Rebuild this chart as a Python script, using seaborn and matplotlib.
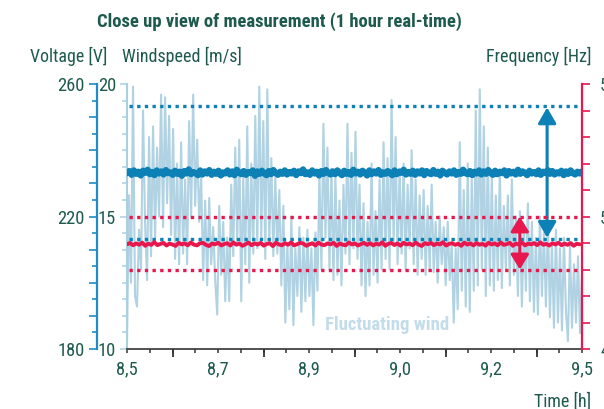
import matplotlib
matplotlib.use('Agg')
import matplotlib.pyplot as plt
from matplotlib import font_manager as fm
from matplotlib.ticker import FixedLocator, FixedFormatter, MultipleLocator, NullFormatter
import seaborn as sns
import numpy as np
import pandas as pd

# ---------------- data ----------------
title = "Close up view of measurement (1 hour real-time)"
time_ticks = [0, 12, 24, 36, 48, 60]            # minutes into the hour
time_labels = ["8,5", "8,7", "8,9", "9,0", "9,2", "9,5"]
volt_ticks = [180, 220, 260]
wind_ticks = [10, 15, 20]
freq_ticks = [49, 50, 51]
freq_labels = ["49", "50", "51"]

wind = [10.3, 15.8, 12.5, 19.9, 12.0,
        11.6, 14.5, 13.0, 19.0, 14.8,
        12.6, 18.0, 13.5, 18.4, 14.2,
        17.6, 15.0, 19.6, 14.6, 19.5,
        15.5, 18.8, 14.3, 18.3, 13.4,
        17.0, 13.2, 17.8, 13.6, 16.4,
        13.2, 18.6, 15.0, 19.6, 15.4,
        17.9, 14.8, 16.5, 12.6, 15.6,
        12.4, 15.7, 13.2, 14.6, 12.6,
        11.3, 15.4, 12.8, 14.8, 11.8,
        14.2, 11.8, 16.2, 13.5, 17.6,
        14.0, 17.9, 11.8, 16.5, 13.2,
        18.4, 12.5, 17.0, 13.6, 18.8,
        13.8, 19.9, 14.2, 18.6, 13.4,
        19.8, 14.0, 17.2, 13.5, 16.5,
        13.6, 16.0, 12.4, 15.4, 11.0,
        14.0, 11.5, 15.0, 10.9, 13.8,
        12.0, 14.6, 11.4, 14.2, 11.8,
        14.5, 12.0, 13.8, 10.9, 14.4,
        12.2, 16.6, 13.0, 18.5, 14.2,
        17.6, 13.0, 16.8, 12.6, 16.5,
        12.8, 15.6, 12.4, 16.2, 13.6,
        18.5, 13.2, 17.4, 13.8, 18.2,
        13.4, 16.2, 12.4, 15.5, 12.0,
        14.8, 12.4, 17.0, 12.8, 15.2,
        12.5, 16.4, 13.0, 17.8, 13.4,
        17.2, 13.0, 19.4, 14.0, 18.0,
        13.2, 16.8, 13.6, 17.0, 13.0,
        16.2, 13.8, 17.5, 13.2, 16.4,
        12.8, 15.8, 13.4, 16.0, 12.8,
        15.4, 13.0, 16.2, 12.9, 14.8,
        12.5, 15.0, 13.2, 14.6, 12.4,
        14.8, 12.6, 14.0, 11.0, 13.8,
        11.5, 17.8, 12.2, 16.0, 11.6,
        17.0, 11.4, 16.4, 12.2, 19.0,
        12.4, 19.8, 13.0, 18.4, 12.0,
        17.6, 12.4, 16.6, 12.2, 15.8,
        12.6, 16.8, 12.3, 15.4, 13.0,
        15.8, 12.4, 16.4, 12.8, 15.0,
        12.0, 15.2, 11.6, 14.6, 12.2,
        15.5, 11.8, 14.8, 11.4, 14.2,
        11.3, 15.0, 12.0, 14.4, 11.6,
        14.8, 11.2, 14.0, 10.8, 14.5,
        11.0, 13.8, 10.7, 14.2, 11.4,
        10.3, 13.9, 10.8, 13.2, 11.0,
        13.5, 10.6, 12.8]

voltage = [233.1, 233.7, 232.6, 233.9, 232.9, 233.5, 232.4, 233.8, 233.2, 234.1,
           232.8, 233.4, 232.5, 233.9, 233.0, 233.6, 232.7, 234.0, 233.1, 233.3,
           232.6, 233.8, 232.9, 233.5, 232.3, 233.7, 233.0, 234.2, 232.8, 233.4,
           233.1, 232.5, 233.9, 232.7, 233.6, 233.0, 234.0, 232.6, 233.5, 232.9,
           233.8, 232.4, 233.3, 233.0, 233.9, 232.7, 233.6, 232.5, 234.1, 233.2,
           232.8, 233.7, 232.6, 233.4, 233.1, 233.9, 232.3, 233.6, 232.9, 233.8,
           233.0, 232.5, 233.7, 232.8, 234.0, 233.2, 232.6, 233.5, 232.9, 233.9,
           232.7, 233.4, 233.0, 233.8, 232.5, 233.6, 233.1, 234.2, 232.8, 233.3,
           232.6, 233.9, 233.0, 233.5, 232.4, 233.7, 232.9, 234.0, 233.2, 232.7,
           233.6, 232.8, 233.9, 233.1, 232.5, 233.8, 232.9, 233.4, 232.6, 234.1,
           233.0, 233.5, 232.7, 233.8, 233.2, 232.4, 233.9, 232.8, 233.6, 233.0,
           234.0, 232.6, 233.3, 232.9, 233.7, 233.1, 232.5, 233.9, 232.8, 233.5,
           233.2, 234.1, 232.7, 233.4, 232.9, 233.8, 232.6, 233.6, 233.0, 233.9,
           232.5, 233.7, 233.1, 232.8, 234.0, 232.9, 233.5, 232.4, 233.8, 233.2,
           232.7, 233.6, 233.0, 233.9, 232.6, 233.4, 232.9, 234.1, 233.1, 232.8,
           233.7, 232.5, 233.5, 233.0, 233.9, 232.7, 233.6, 232.9, 234.0, 233.2,
           232.6, 233.8, 232.8, 233.4, 233.1, 233.9, 232.4, 233.7, 233.0, 233.5,
           232.7, 234.1, 232.9, 233.6, 233.2, 232.5, 233.8, 233.0, 233.4, 232.8,
           233.9, 232.6, 233.5, 233.1, 234.0, 232.9, 233.7, 232.7, 233.3, 233.0,
           233.8, 232.5, 233.6, 232.9, 233.9, 233.1, 232.7, 233.5, 233.0, 233.6]

frequency = [49.79, 49.80, 49.783, 49.797, 49.787, 49.803, 49.779, 49.795, 49.786, 49.806,
             49.784, 49.793, 49.801, 49.781, 49.796, 49.788, 49.778, 49.802, 49.789, 49.797,
             49.783, 49.804, 49.788, 49.782, 49.798, 49.801, 49.786, 49.777, 49.796, 49.79,
             49.802, 49.782, 49.792, 49.799, 49.781, 49.805, 49.787, 49.796, 49.779, 49.791,
             49.803, 49.783, 49.797, 49.788, 49.801, 49.78, 49.793, 49.798, 49.777, 49.802,
             49.789, 49.783, 49.799, 49.787, 49.804, 49.782, 49.791, 49.801, 49.796, 49.779,
             49.79, 49.798, 49.781, 49.803, 49.788, 49.784, 49.797, 49.79, 49.802, 49.778,
             49.796, 49.787, 49.783, 49.804, 49.789, 49.797, 49.781, 49.792, 49.801, 49.786,
             49.799, 49.782, 49.795, 49.788, 49.805, 49.779, 49.794, 49.8, 49.785, 49.797,
             49.78, 49.802, 49.789, 49.796, 49.783, 49.803, 49.787, 49.778, 49.799, 49.791,
             49.801, 49.784, 49.796, 49.789, 49.806, 49.781, 49.793, 49.799, 49.786, 49.795,
             49.779, 49.803, 49.788, 49.797, 49.782, 49.8, 49.787, 49.794, 49.78, 49.802,
             49.789, 49.797, 49.783, 49.804, 49.786, 49.792, 49.801, 49.779, 49.796, 49.788,
             49.803, 49.782, 49.795, 49.79, 49.799, 49.784, 49.805, 49.787, 49.793, 49.781,
             49.798, 49.789, 49.802, 49.783, 49.796, 49.786, 49.8, 49.779, 49.794, 49.79]

volt_limits = [253.3, 213.1]
freq_limits = [50.0, 49.6]
volt_arrow = dict(t=55.4, top=252.9, bottom=213.6)
freq_arrow = dict(t=51.8, top=50.0, bottom=49.6)

# ---------------- style ----------------
TEXT = '#1d5a4d'
BLUE = '#0d80b6'
LIGHT = '#b0d2e2'
LIGHT_TXT = '#c3dcea'
RED = '#e8174e'
VSPINE = '#1f8cc6'
WSPINE = '#a9cfe0'

sns.set_theme(style='white')


def has(fam):
    try:
        fm.findfont(fm.FontProperties(family=fam), fallback_to_default=False)
        return True
    except Exception:
        return False


FONT, STRETCH = None, 'normal'
for fam in ['Liberation Sans Narrow', 'Arial Narrow', 'Roboto Condensed',
            'Nimbus Sans Narrow', 'Open Sans Condensed']:
    if has(fam):
        FONT = fam
        break
if FONT is None:
    for f in fm.fontManager.ttflist:
        if f.name == 'DejaVu Sans' and f.stretch == 'condensed':
            FONT, STRETCH = 'DejaVu Sans', 'condensed'
            break
if FONT is None:
    FONT = 'Roboto' if has('Roboto') else 'DejaVu Sans'

plt.rcParams['font.family'] = [FONT, 'DejaVu Sans']
plt.rcParams['font.stretch'] = STRETCH

W, H = 604, 409
fig = plt.figure(figsize=(W / 100, H / 100), dpi=100)
renderer = fig.canvas.get_renderer()


def fit(s, target, weight='normal', base=10.0):
    t = fig.text(0, 0, s, fontsize=base, weight=weight, fontstretch=STRETCH)
    w = t.get_window_extent(renderer).width
    t.remove()
    return base * target / w


def fx(px):
    return px / W


def fy(py):
    return 1 - py / H


L, R, T, B = 127, 582, 84, 349
ax = fig.add_axes([fx(L), fy(B), (R - L) / W, (B - T) / H])
axv = ax.twinx()
axf = ax.twinx()

t_wind = np.linspace(0, 60, len(wind))
t_volt = np.linspace(0, 60, len(voltage))
t_freq = np.linspace(0, 59.7, len(frequency))

sns.lineplot(x=t_wind, y=wind, ax=ax, color=LIGHT, lw=1.5, estimator=None, sort=False)
sns.lineplot(x=t_volt, y=voltage, ax=axv, color=BLUE, lw=4.6, estimator=None, sort=False)
sns.lineplot(x=t_freq, y=frequency, ax=axf, color=RED, lw=2.8, estimator=None, sort=False)

axv.hlines(volt_limits, 0.3, 59.7, colors=BLUE, lw=2.4, linestyles=(0, (1, 1.3)))
axf.hlines(freq_limits, 0.3, 59.7, colors=RED, lw=2.4, linestyles=(0, (1, 1.3)))

axv.annotate('', xy=(volt_arrow['t'], volt_arrow['top']),
             xytext=(volt_arrow['t'], volt_arrow['bottom']),
             arrowprops=dict(arrowstyle='<|-|>,head_length=0.95,head_width=0.55',
                             color=BLUE, lw=2.2, mutation_scale=10,
                             shrinkA=0, shrinkB=0))
axf.annotate('', xy=(freq_arrow['t'], freq_arrow['top']),
             xytext=(freq_arrow['t'], freq_arrow['bottom']),
             arrowprops=dict(arrowstyle='<|-|>,head_length=0.9,head_width=0.55',
                             color=RED, lw=2.2, mutation_scale=10,
                             shrinkA=0, shrinkB=0))

for a in (ax, axv, axf):
    a.set_xlim(0, 60)
    a.set_ylabel('')
    a.set_xlabel('')
    for s in a.spines.values():
        s.set_visible(False)
ax.set_ylim(10, 20)
axv.set_ylim(180, 260)
axf.set_ylim(49, 51)

tick_fs = fit("260", 27)

# x axis
ax.spines['bottom'].set_visible(True)
ax.spines['bottom'].set_color('#333333')
ax.spines['bottom'].set_linewidth(1.2)
ax.xaxis.set_major_locator(FixedLocator(time_ticks))
ax.xaxis.set_major_formatter(FixedFormatter(time_labels))
ax.xaxis.set_minor_locator(MultipleLocator(3))
ax.tick_params(axis='x', which='both', bottom=True, direction='out', color='#333333',
               width=1.1, labelcolor=TEXT, labelsize=tick_fs)
ax.tick_params(axis='x', which='major', length=3, pad=5)
ax.tick_params(axis='x', which='minor', length=3)
sec = ax.secondary_xaxis('bottom')
sec.set_xticks([6, 18, 30, 42, 54])
sec.tick_params(axis='x', length=6, width=1.3, color='#333333', labelbottom=False)
sec.spines['bottom'].set_visible(False)

# wind axis (left, inner)
ax.spines['left'].set_visible(True)
ax.spines['left'].set_color(WSPINE)
ax.spines['left'].set_linewidth(1.5)
ax.yaxis.set_major_locator(FixedLocator(wind_ticks))
ax.yaxis.set_minor_locator(MultipleLocator(0.625))
ax.yaxis.set_minor_formatter(NullFormatter())
ax.tick_params(axis='y', which='both', left=True, direction='out', color=WSPINE,
               width=1.1, labelcolor=TEXT, labelsize=tick_fs)
ax.tick_params(axis='y', which='major', length=5, pad=3)
ax.tick_params(axis='y', which='minor', length=3.5)

# voltage axis (left, outer)
axv.yaxis.tick_left()
axv.spines['left'].set_visible(True)
axv.spines['left'].set_position(('outward', 30 * 0.72))
axv.spines['left'].set_color(VSPINE)
axv.spines['left'].set_linewidth(1.6)
axv.yaxis.set_major_locator(MultipleLocator(10))
axv.yaxis.set_major_formatter(lambda v, p: f"{v:.0f}" if round(v) in volt_ticks else "")
axv.yaxis.set_minor_locator(MultipleLocator(5))
axv.tick_params(axis='y', which='both', left=True, right=False, direction='out',
                color=VSPINE, width=1.2, labelcolor=TEXT, labelsize=tick_fs)
axv.tick_params(axis='y', which='major', length=6, pad=3)
axv.tick_params(axis='y', which='minor', length=3.5)

# frequency axis (right)
axf.spines['right'].set_visible(True)
axf.spines['right'].set_color(RED)
axf.spines['right'].set_linewidth(1.6)
axf.yaxis.set_major_locator(FixedLocator(freq_ticks))
axf.yaxis.set_major_formatter(FixedFormatter(freq_labels))
axf.yaxis.set_minor_locator(MultipleLocator(0.2))
axf.tick_params(axis='y', which='both', right=True, left=False, direction='out',
                color=RED, width=1.2, length=6, labelcolor=TEXT, labelsize=tick_fs)
axf.tick_params(axis='y', which='major', pad=7)

for a in (ax, axv, axf):
    a.grid(False)
    a.patch.set_visible(False)

# texts
fig.text(fx(97), fy(27), title, ha='left', va='baseline', color=TEXT, weight='bold',
         fontsize=fit(title, 366, 'bold'))
fig.text(fx(30), fy(62), "Voltage [V]", ha='left', va='baseline', color=TEXT,
         fontsize=fit("Voltage [V]", 77))
fig.text(fx(122), fy(62), "Windspeed [m/s]", ha='left', va='baseline', color=TEXT,
         fontsize=fit("Windspeed [m/s]", 119))
fig.text(fx(591), fy(62), "Frequency [Hz]", ha='right', va='baseline', color=TEXT,
         fontsize=fit("Frequency [Hz]", 105))
fig.text(fx(591), fy(407), "Time [h]", ha='right', va='baseline', color=TEXT,
         fontsize=fit("Time [h]", 57))
fig.text(fx(325), fy(330), "Fluctuating wind", ha='left', va='baseline', color=LIGHT_TXT,
         weight='bold', fontsize=fit("Fluctuating wind", 124, 'bold'))

fig.savefig('out.png', dpi=100, facecolor='white')
